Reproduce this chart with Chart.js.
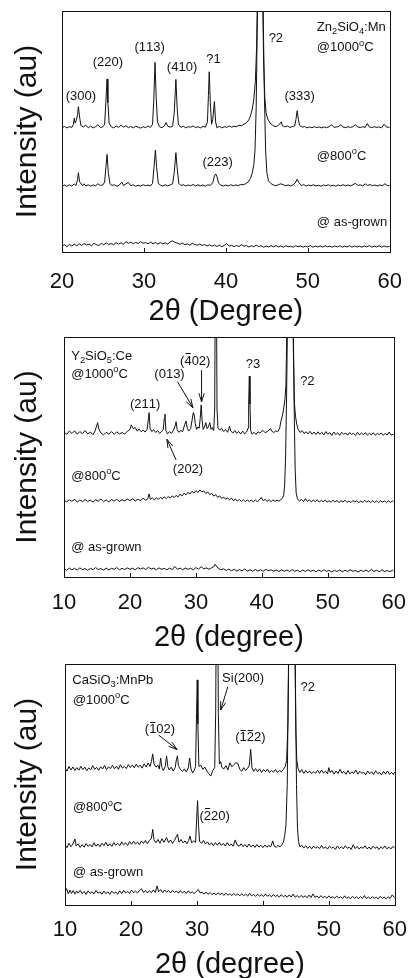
<!DOCTYPE html>
<html><head><meta charset="utf-8">
<script src="https://cdn.jsdelivr.net/npm/chart.js@4.4.1/dist/chart.umd.min.js"></script>
<style>
html,body{margin:0;padding:0;background:#fff;overflow:hidden;width:419px;height:978px;position:relative}
canvas{position:absolute;left:0}
</style></head><body>
<canvas id="c1" width="419" height="330" style="top:0px"></canvas>
<canvas id="c2" width="419" height="334" style="top:322px"></canvas>
<canvas id="c3" width="419" height="335" style="top:648px"></canvas>
<script>
// ---------------- DATA (2θ in degrees, intensity in offset arbitrary units) ----------------
const xTicksZn = [20, 30, 40, 50, 60];
const xTicksY = [10, 20, 30, 40, 50, 60];
const xTicksCa = [10, 20, 30, 40, 50, 60];

const zn1000 = [[20,51.6],[20.3,52.1],[20.6,51.5],[20.9,52.0],[21.2,51.7],[21.4,53.0],[21.5,55.6],[21.6,53.5],[21.75,54.5],[21.9,57],[22.0,60.3],[22.15,56],[22.3,52.5],[22.6,51.9],[22.9,52.6],[23.2,51.6],[23.5,52.2],[23.8,51.5],[24.1,52.0],[24.4,52.8],[24.7,51.6],[25.0,52.0],[25.2,53],[25.35,62],[25.5,71.8],[25.6,62],[25.75,53.5],[26.0,52.0],[26.3,51.5],[26.6,52.3],[26.9,51.7],[27.2,52.6],[27.5,51.8],[27.8,52.4],[28.1,51.6],[28.4,52.1],[28.7,51.5],[29.0,52.2],[29.3,51.8],[29.6,51.4],[29.9,52.0],[30.2,51.6],[30.5,52.3],[30.8,51.7],[31.05,53],[31.2,63],[31.35,78.7],[31.5,64],[31.65,54],[31.9,52.0],[32.2,51.6],[32.5,52.3],[32.7,53.7],[32.9,52.2],[33.2,51.8],[33.5,52.2],[33.7,58],[33.9,71.6],[34.05,60],[34.2,53],[34.5,51.7],[34.8,52.2],[35.1,51.5],[35.4,52.0],[35.7,51.8],[36.0,52.3],[36.3,51.6],[36.6,52.0],[36.9,51.5],[37.2,52.1],[37.5,51.8],[37.75,54],[37.87,65],[37.97,74.8],[38.1,62],[38.25,53],[38.4,55],[38.6,62.4],[38.75,54],[38.9,51.6],[39.2,52.1],[39.5,51.5],[39.8,52.0],[40.1,51.7],[40.4,52.3],[40.7,51.8],[41.0,52.2],[41.3,52.0],[41.6,52.6],[41.9,52.4],[42.2,53.0],[42.5,53.6],[42.8,54.8],[43.0,56.5],[43.2,59],[43.4,63],[43.6,71],[43.75,85],[43.85,105],[44.0,140],[44.2,160],[44.4,140],[44.5,105],[44.6,80],[44.75,64],[44.9,58],[45.1,55.2],[45.4,53.5],[45.7,52.6],[46.0,52.0],[46.3,52.3],[46.6,53.2],[46.75,54],[46.9,52.4],[47.2,51.9],[47.5,52.3],[47.8,51.7],[48.1,52.0],[48.4,52.3],[48.55,55],[48.7,58.6],[48.85,55],[49.0,52.5],[49.3,51.8],[49.6,52.1],[49.9,51.5],[50.2,51.9],[50.5,51.6],[50.8,52.0],[51.1,51.6],[51.4,51.9],[51.7,51.5],[52.0,51.9],[52.3,51.6],[52.6,52.0],[52.9,52.8],[53.2,51.7],[53.5,51.9],[53.8,52.1],[54.0,52.8],[54.3,51.8],[54.6,51.6],[54.9,52.0],[55.2,51.7],[55.5,52.0],[55.8,52.8],[56.1,51.9],[56.4,51.6],[56.7,52.0],[57.0,51.7],[57.25,53.3],[57.5,51.9],[57.8,51.6],[58.1,52.0],[58.4,51.7],[58.7,51.9],[59.0,51.5],[59.3,53.0],[59.6,51.8],[60,51.8]];

const zn800 = [[20,27.3],[20.3,27.8],[20.6,27.2],[20.9,27.9],[21.2,27.4],[21.5,28.2],[21.7,27.6],[21.9,30],[22.0,32.9],[22.15,29],[22.3,28.6],[22.5,27.5],[22.7,28.3],[22.9,27.4],[23.2,27.9],[23.5,27.3],[23.8,27.8],[24.1,27.5],[24.4,28.3],[24.7,27.6],[25.0,27.9],[25.2,29],[25.35,35],[25.5,40.5],[25.65,33],[25.85,28.3],[26.1,27.6],[26.4,27.9],[26.7,27.3],[27.0,27.8],[27.3,29.0],[27.5,27.6],[27.8,28.2],[28.1,28.9],[28.4,27.5],[28.7,27.9],[29.0,27.3],[29.3,27.7],[29.6,27.4],[29.9,27.9],[30.2,27.5],[30.5,27.8],[30.8,27.4],[31.05,28.5],[31.2,34],[31.4,42.3],[31.55,35],[31.75,28.6],[32.0,27.7],[32.3,27.4],[32.6,27.9],[32.9,27.5],[33.2,27.8],[33.5,28.3],[33.7,33],[33.9,41.2],[34.05,35],[34.25,28.5],[34.5,27.6],[34.8,27.9],[35.1,27.4],[35.4,27.8],[35.7,27.5],[36.0,28.0],[36.3,27.4],[36.6,27.9],[36.9,27.5],[37.2,27.8],[37.5,27.3],[37.8,27.9],[38.1,27.6],[38.4,28.8],[38.6,31.5],[38.75,32.4],[38.9,31.5],[39.1,28.6],[39.4,27.7],[39.7,27.4],[40.0,27.8],[40.3,27.4],[40.6,27.9],[40.9,27.5],[41.2,27.8],[41.5,27.6],[41.8,28.0],[42.1,27.9],[42.4,28.3],[42.7,29.0],[43.0,30.5],[43.2,32.5],[43.4,36],[43.55,42],[43.7,60],[43.85,100],[44.0,140],[44.2,160],[44.4,140],[44.55,100],[44.7,65],[44.85,42],[45.0,33],[45.2,29.5],[45.5,28.4],[45.8,27.8],[46.1,27.5],[46.4,27.9],[46.7,28.3],[47.0,27.9],[47.3,27.5],[47.6,27.8],[47.9,27.4],[48.2,27.9],[48.45,28.6],[48.7,30.2],[48.9,28.8],[49.2,27.6],[49.5,27.9],[49.8,27.4],[50.1,27.8],[50.4,27.5],[50.7,27.9],[51.0,27.4],[51.3,27.7],[51.6,27.3],[51.9,27.8],[52.2,27.5],[52.5,27.9],[52.8,27.4],[53.1,27.7],[53.4,27.3],[53.7,27.8],[54.0,27.5],[54.3,27.9],[54.6,27.5],[54.9,27.8],[55.2,27.4],[55.5,27.9],[55.8,28.5],[56.1,27.6],[56.4,27.9],[56.7,27.4],[57.0,28.3],[57.3,27.6],[57.6,28.0],[57.9,27.5],[58.2,27.8],[58.5,27.4],[58.8,27.8],[59.1,27.5],[59.4,28.3],[59.7,27.6],[60,27.5]];

const znAsGrown = [[20,2.4],[20.3,3.0],[20.6,2.2],[20.9,3.1],[21.2,2.5],[21.5,3.3],[21.8,2.6],[22.1,3.4],[22.4,2.7],[22.7,3.5],[23.0,2.9],[23.3,3.3],[23.6,2.6],[23.9,3.6],[24.2,3.0],[24.5,2.7],[24.8,3.6],[25.1,3.0],[25.4,3.8],[25.7,3.1],[26.0,3.5],[26.3,3.0],[26.6,3.9],[26.9,3.3],[27.2,3.8],[27.5,3.2],[27.8,4.3],[28.1,3.6],[28.4,4.1],[28.7,3.4],[29.0,4.0],[29.3,3.5],[29.6,4.3],[29.9,3.6],[30.2,3.9],[30.5,3.4],[30.8,4.1],[31.1,3.5],[31.4,3.9],[31.7,3.3],[32.0,3.9],[32.3,3.4],[32.6,3.8],[32.9,3.3],[33.2,4.2],[33.5,4.6],[33.8,4.0],[34.1,3.6],[34.4,3.2],[34.7,3.7],[35.0,3.0],[35.3,3.4],[35.6,2.8],[35.9,3.6],[36.2,3.1],[36.5,2.8],[36.8,3.3],[37.1,2.7],[37.4,3.1],[37.7,2.5],[38.0,3.0],[38.3,2.4],[38.6,2.9],[38.9,2.3],[39.2,2.8],[39.5,2.2],[39.8,2.7],[40.1,3.5],[40.4,2.4],[40.7,2.8],[41.0,2.2],[41.3,2.7],[41.6,2.3],[41.9,3.0],[42.2,2.4],[42.5,2.7],[42.8,2.1],[43.1,2.6],[43.4,2.2],[43.7,2.8],[44.0,2.3],[44.3,2.6],[44.6,2.0],[44.9,2.5],[45.2,2.1],[45.5,2.6],[45.8,2.2],[46.1,2.7],[46.4,2.1],[46.7,2.5],[47.0,2.0],[47.3,2.6],[47.6,2.2],[47.9,2.4],[48.2,2.0],[48.5,2.6],[48.8,2.2],[49.1,2.5],[49.4,2.0],[49.7,2.4],[50.0,2.1],[50.3,2.7],[50.6,2.0],[50.9,2.5],[51.2,2.1],[51.5,2.5],[51.8,2.0],[52.1,2.6],[52.4,2.2],[52.7,2.4],[53.0,2.0],[53.3,2.5],[53.6,2.1],[53.9,2.6],[54.2,2.0],[54.5,2.4],[54.8,2.1],[55.1,2.6],[55.4,2.0],[55.7,2.5],[56.0,2.1],[56.3,2.4],[56.6,2.0],[56.9,2.5],[57.2,2.1],[57.5,2.7],[57.8,2.0],[58.1,2.4],[58.4,2.1],[58.7,2.6],[59.0,2.0],[59.3,2.5],[59.6,2.1],[60,2.4]];

const y1000 = [[10,60.5],[10.4,59.4],[10.8,60.8],[11.2,59.8],[11.6,60.9],[12.0,59.5],[12.4,60.6],[12.8,59.7],[13.2,61.0],[13.6,59.6],[14.0,60.4],[14.4,59.3],[14.7,60.8],[14.9,62.5],[15.1,64.3],[15.3,61.5],[15.6,60.0],[16.0,59.2],[16.4,60.3],[16.8,59.5],[17.2,60.6],[17.6,59.4],[18.0,60.5],[18.4,59.6],[18.8,60.2],[19.2,59.5],[19.6,60.7],[20.0,61.5],[20.2,63.4],[20.5,61.8],[20.8,62.3],[21.1,60.8],[21.4,61.6],[21.7,60.5],[22.0,61.2],[22.3,60.4],[22.6,61.5],[22.8,66],[22.9,68.5],[23.05,62],[23.3,60.6],[23.6,61.3],[23.9,60.2],[24.2,61.0],[24.5,59.8],[24.8,60.6],[25.05,61.5],[25.2,66],[25.3,67.9],[25.45,61],[25.7,59.6],[26.0,60.6],[26.3,59.8],[26.6,61.2],[26.85,63],[27.0,64.7],[27.15,61.5],[27.4,60.3],[27.7,61.0],[28.0,60.6],[28.3,63.5],[28.5,65],[28.7,62],[28.9,60.8],[29.2,61.8],[29.4,65],[29.6,68.5],[29.75,67.5],[29.9,64],[30.1,61.5],[30.3,62.5],[30.5,62.0],[30.65,66],[30.8,71.7],[30.95,65],[31.1,61.5],[31.3,62.5],[31.5,64.3],[31.7,61.8],[31.9,62.6],[32.1,64.3],[32.3,61.5],[32.5,62.3],[32.7,61.0],[32.85,70],[32.95,130],[33.1,130],[33.2,70],[33.35,62],[33.6,61.2],[33.9,62.0],[34.2,60.6],[34.5,61.4],[34.8,60.3],[35.0,61.8],[35.1,62.8],[35.3,60.8],[35.6,60.0],[35.9,61.0],[36.2,59.8],[36.5,60.6],[36.8,59.6],[37.1,60.8],[37.4,59.7],[37.7,60.5],[37.9,62],[38.0,72],[38.1,83.7],[38.2,72],[38.3,61],[38.5,59.5],[38.8,60.3],[39.1,59.4],[39.4,60.5],[39.7,60.0],[40.0,60.8],[40.2,61.0],[40.5,60.1],[40.8,60.6],[41.1,61.2],[41.3,61.9],[41.5,60.8],[41.8,60.2],[42.1,60.9],[42.4,60.5],[42.7,62],[42.9,65],[43.1,67],[43.3,70],[43.5,74],[43.65,80],[43.8,105],[44.0,140],[44.3,150],[44.6,130],[44.8,90],[44.95,72],[45.1,67],[45.3,63.5],[45.5,61.5],[45.8,60.2],[46.1,61.0],[46.4,59.8],[46.7,60.5],[47.0,59.6],[47.3,60.7],[47.6,59.5],[47.9,60.4],[48.2,59.3],[48.5,60.5],[48.8,59.4],[49.1,60.3],[49.4,59.2],[49.7,60.6],[50.0,59.5],[50.3,60.2],[50.6,59.0],[50.9,60.4],[51.2,59.3],[51.5,60.1],[51.8,59.0],[52.1,60.3],[52.4,59.4],[52.7,60.0],[53.0,59.1],[53.3,60.2],[53.6,59.4],[53.9,59.9],[54.2,59.0],[54.5,60.3],[54.8,59.2],[55.1,60.0],[55.4,59.3],[55.7,60.2],[56.0,59.1],[56.3,59.9],[56.6,59.2],[56.9,60.1],[57.2,59.0],[57.5,59.9],[57.8,59.3],[58.1,60.0],[58.4,59.1],[58.7,59.8],[59.0,59.2],[59.3,60.4],[59.6,59.1],[60,59.6]];

const y800 = [[10,32.0],[10.4,31.3],[10.8,32.2],[11.2,31.5],[11.6,32.4],[12.0,31.2],[12.4,32.1],[12.8,31.4],[13.2,32.3],[13.6,31.5],[14.0,32.0],[14.4,31.2],[14.8,32.2],[15.2,31.6],[15.6,32.5],[16.0,31.4],[16.4,32.1],[16.8,31.3],[17.2,32.3],[17.6,31.6],[18.0,32.4],[18.4,31.5],[18.8,32.2],[19.2,31.7],[19.6,32.5],[20.0,31.8],[20.4,32.6],[20.8,31.7],[21.2,32.4],[21.6,31.9],[22.0,32.8],[22.4,32.0],[22.7,32.6],[22.9,34.6],[23.1,32.4],[23.4,32.9],[23.7,32.1],[24.0,33.0],[24.3,32.3],[24.6,33.2],[24.9,32.5],[25.2,33.4],[25.5,32.7],[25.8,33.5],[26.1,32.9],[26.4,33.8],[26.7,33.1],[27.0,34.0],[27.3,33.4],[27.6,34.5],[27.9,33.8],[28.2,34.9],[28.5,34.2],[28.8,35.3],[29.1,34.6],[29.4,35.7],[29.7,35.0],[30.0,36.0],[30.3,35.2],[30.6,36.3],[30.9,35.4],[31.2,35.9],[31.5,34.8],[31.8,35.4],[32.1,34.3],[32.4,34.9],[32.7,33.7],[33.0,34.3],[33.3,33.2],[33.6,33.8],[33.9,32.7],[34.2,33.3],[34.5,32.4],[34.8,33.0],[35.1,32.1],[35.4,32.8],[35.7,31.8],[36.0,32.5],[36.3,31.6],[36.6,32.3],[36.9,31.5],[37.2,32.2],[37.5,31.4],[37.8,32.1],[38.1,31.5],[38.4,32.0],[38.7,31.3],[39.0,32.1],[39.3,31.4],[39.6,32.0],[39.9,33.2],[40.2,31.8],[40.5,32.3],[40.8,31.5],[41.1,32.2],[41.4,31.4],[41.7,32.1],[42.0,31.5],[42.3,32.0],[42.6,31.6],[42.9,32.3],[43.1,32.8],[43.3,34],[43.45,38],[43.6,50],[43.75,75],[43.9,110],[44.2,150],[44.5,150],[44.75,110],[44.9,70],[45.05,45],[45.2,35],[45.4,32.6],[45.7,31.6],[46.0,32.3],[46.3,31.4],[46.6,32.6],[46.9,31.5],[47.2,32.2],[47.5,31.3],[47.8,32.0],[48.1,31.4],[48.4,32.2],[48.7,31.2],[49.0,31.9],[49.3,31.3],[49.6,32.1],[49.9,31.2],[50.2,31.8],[50.5,31.1],[50.8,32.0],[51.1,31.3],[51.4,31.9],[51.7,31.0],[52.0,31.8],[52.3,31.2],[52.6,32.0],[52.9,31.1],[53.2,31.7],[53.5,31.0],[53.8,31.9],[54.1,31.2],[54.4,31.8],[54.7,31.0],[55.0,31.7],[55.3,31.1],[55.6,31.9],[55.9,31.2],[56.2,31.7],[56.5,31.0],[56.8,31.8],[57.1,31.1],[57.4,31.7],[57.7,31.0],[58.0,31.8],[58.3,31.2],[58.6,31.7],[58.9,31.0],[59.2,31.8],[59.5,31.1],[59.8,31.7],[60,31.3]];

const yAsGrown = [[10,3.4],[10.4,2.8],[10.8,3.7],[11.2,3.0],[11.6,3.6],[12.0,2.9],[12.4,3.8],[12.8,3.1],[13.2,3.5],[13.6,2.8],[14.0,3.6],[14.4,3.0],[14.8,3.9],[15.2,3.1],[15.6,3.5],[16.0,2.9],[16.4,3.7],[16.8,3.0],[17.2,3.6],[17.6,3.2],[18.0,3.9],[18.4,3.0],[18.8,3.6],[19.2,3.1],[19.6,3.8],[20.0,3.2],[20.4,3.7],[20.8,3.0],[21.2,3.9],[21.6,3.3],[22.0,3.8],[22.4,3.1],[22.8,4.0],[23.2,3.3],[23.6,3.7],[24.0,3.0],[24.4,3.8],[24.8,3.2],[25.2,3.6],[25.6,3.0],[26.0,3.7],[26.4,3.1],[26.8,4.4],[27.2,3.2],[27.6,3.7],[28.0,3.0],[28.4,3.8],[28.8,3.2],[29.2,3.6],[29.6,3.0],[30.0,3.9],[30.4,3.3],[30.8,4.3],[31.2,3.4],[31.6,3.8],[32.0,3.2],[32.4,3.9],[32.7,4.3],[32.9,5.3],[33.1,4.6],[33.4,3.6],[33.8,3.0],[34.2,3.4],[34.6,2.7],[35.0,3.3],[35.4,2.6],[35.8,3.2],[36.2,2.5],[36.6,3.1],[37.0,2.6],[37.4,3.3],[37.8,2.5],[38.2,3.0],[38.6,2.4],[39.0,3.1],[39.4,2.5],[39.8,3.0],[40.2,2.4],[40.6,3.2],[41.0,2.6],[41.4,3.0],[41.8,2.4],[42.2,2.9],[42.6,2.3],[43.0,3.0],[43.4,2.4],[43.8,2.9],[44.2,2.3],[44.6,3.1],[45.0,2.4],[45.4,2.8],[45.8,2.2],[46.2,2.9],[46.6,2.3],[47.0,3.0],[47.4,2.4],[47.8,2.8],[48.2,2.2],[48.6,2.9],[49.0,2.3],[49.4,3.0],[49.8,2.4],[50.2,2.7],[50.6,2.1],[51.0,2.8],[51.4,2.3],[51.8,2.9],[52.2,2.2],[52.6,2.8],[53.0,2.3],[53.4,3.0],[53.8,2.4],[54.2,2.7],[54.6,2.1],[55.0,2.8],[55.4,2.3],[55.8,2.9],[56.2,2.2],[56.6,3.2],[57.0,2.3],[57.4,2.8],[57.8,2.2],[58.2,3.0],[58.6,2.3],[59.0,2.7],[59.4,2.2],[59.8,2.8],[60,2.4]];

const ca1000 = [[10,56.8],[10.3,55.6],[10.6,57.5],[10.9,56.0],[11.2,57.3],[11.5,55.8],[11.8,57.0],[12.1,55.9],[12.4,57.6],[12.7,56.2],[13.0,57.2],[13.3,55.7],[13.6,56.9],[13.9,56.1],[14.2,57.8],[14.5,56.3],[14.8,57.1],[15.1,55.9],[15.4,57.4],[15.7,56.4],[16.0,57.9],[16.3,56.2],[16.6,57.3],[16.9,56.6],[17.2,58.0],[17.5,56.5],[17.8,57.6],[18.1,56.3],[18.4,58.2],[18.7,56.8],[19.0,57.5],[19.3,56.6],[19.6,58.3],[19.9,57.0],[20.2,58.1],[20.5,56.9],[20.8,58.4],[21.1,57.2],[21.4,58.0],[21.7,56.8],[22.0,58.6],[22.3,57.3],[22.6,58.9],[22.9,57.5],[23.1,59.5],[23.3,62.7],[23.5,58.5],[23.8,57.2],[24.1,58.0],[24.3,56.4],[24.5,61.0],[24.7,57.0],[24.9,55.8],[25.2,57.5],[25.4,61.9],[25.6,57.3],[25.8,56.0],[26.1,57.2],[26.4,55.6],[26.7,57.0],[26.9,60.5],[27.05,61.9],[27.2,57.8],[27.5,56.2],[27.8,55.4],[28.1,56.5],[28.4,55.2],[28.7,57.0],[28.9,61.0],[29.1,56.5],[29.35,54.8],[29.6,55.9],[29.8,57.5],[29.95,80],[30.05,93.4],[30.15,75],[30.3,57.5],[30.6,58.0],[30.9,56.3],[31.2,57.2],[31.5,55.6],[31.8,54.5],[32.1,53.5],[32.4,55.8],[32.7,57.0],[32.85,80],[32.95,130],[33.15,130],[33.25,80],[33.4,58.5],[33.6,59.5],[33.8,57.0],[34.1,56.5],[34.4,57.8],[34.7,56.0],[35.0,59.0],[35.3,57.3],[35.6,58.2],[35.9,59.0],[36.2,58.8],[36.5,56.3],[36.8,55.5],[37.1,57.0],[37.4,55.8],[37.7,56.8],[37.95,58],[38.15,64.6],[38.35,57.0],[38.6,55.4],[38.9,56.6],[39.2,55.3],[39.5,56.5],[39.8,55.0],[40.1,56.2],[40.4,55.3],[40.7,56.4],[41.0,54.9],[41.3,55.9],[41.6,55.1],[41.9,56.2],[42.2,55.0],[42.5,55.8],[42.8,55.3],[43.1,56.2],[43.4,57.5],[43.6,60],[43.8,75],[43.95,110],[44.2,150],[44.6,150],[44.85,110],[45.0,72],[45.15,60],[45.35,56.5],[45.6,55.0],[45.9,56.2],[46.2,54.6],[46.5,55.8],[46.8,54.8],[47.1,55.6],[47.4,54.5],[47.7,55.4],[48.0,54.7],[48.3,55.9],[48.6,54.6],[48.9,56.0],[49.2,54.8],[49.5,55.5],[49.8,54.4],[50.0,57.0],[50.2,55.0],[50.5,55.8],[50.8,54.3],[51.1,55.6],[51.4,54.5],[51.7,56.3],[52.0,54.7],[52.3,55.4],[52.6,54.2],[52.9,55.8],[53.2,54.4],[53.5,55.2],[53.8,54.6],[54.1,56.0],[54.4,54.3],[54.7,55.5],[55.0,54.6],[55.3,55.1],[55.6,54.0],[55.9,55.6],[56.2,54.4],[56.5,55.3],[56.8,54.1],[57.1,55.7],[57.4,54.5],[57.7,55.0],[58.0,54.0],[58.3,55.5],[58.6,54.3],[58.9,55.6],[59.2,54.2],[59.5,55.0],[59.8,54.1],[60,55.2]];

const ca800 = [[10,25.0],[10.3,23.8],[10.6,25.6],[10.9,24.2],[11.2,25.3],[11.5,27.4],[11.7,24.5],[12.0,25.4],[12.3,23.9],[12.6,25.1],[12.9,24.0],[13.2,25.5],[13.5,24.3],[13.8,25.2],[14.1,24.1],[14.4,25.8],[14.7,24.4],[15.0,25.3],[15.3,24.2],[15.6,25.6],[15.9,24.6],[16.2,26.0],[16.5,24.5],[16.8,25.4],[17.1,24.3],[17.4,25.9],[17.7,24.8],[18.0,25.6],[18.3,24.6],[18.6,26.2],[18.9,25.0],[19.2,25.8],[19.5,24.7],[19.8,26.3],[20.1,25.2],[20.4,26.5],[20.7,25.3],[21.0,26.1],[21.3,25.0],[21.6,26.6],[21.9,25.5],[22.2,26.8],[22.5,25.4],[22.8,26.9],[23.1,27.5],[23.3,31.4],[23.5,27.0],[23.8,25.8],[24.1,27.2],[24.4,25.6],[24.7,27.5],[25.0,26.0],[25.4,28.0],[25.7,25.9],[26.0,27.0],[26.3,25.5],[26.6,26.8],[26.9,28.5],[27.05,29.3],[27.3,26.0],[27.6,27.2],[27.9,25.8],[28.2,26.6],[28.5,25.4],[28.75,26.8],[28.95,28.6],[29.2,25.8],[29.5,26.6],[29.8,26.0],[29.95,35],[30.1,43.3],[30.25,33],[30.4,26.5],[30.7,25.6],[31.0,26.8],[31.3,25.3],[31.6,26.2],[31.9,24.9],[32.2,25.8],[32.5,24.6],[32.8,25.9],[33.1,24.8],[33.4,26.0],[33.7,24.7],[34.0,25.6],[34.3,24.5],[34.6,25.9],[34.9,24.6],[35.2,25.3],[35.5,24.4],[35.8,27.0],[36.1,25.0],[36.4,24.3],[36.7,25.4],[37.0,24.2],[37.3,25.1],[37.6,24.0],[37.9,25.3],[38.2,24.1],[38.5,24.9],[38.8,23.9],[39.1,25.1],[39.4,24.0],[39.7,24.8],[40.0,23.8],[40.3,24.9],[40.6,24.0],[40.9,24.6],[41.2,24.2],[41.5,26.6],[41.7,24.5],[42.0,23.9],[42.3,24.7],[42.6,24.1],[42.9,25.0],[43.1,26.0],[43.3,28.5],[43.5,33],[43.7,50],[43.85,90],[44.0,130],[44.4,150],[44.8,130],[44.95,90],[45.1,50],[45.25,32],[45.4,26.5],[45.6,24.2],[45.9,24.8],[46.2,23.6],[46.5,24.6],[46.8,23.5],[47.1,24.4],[47.4,23.3],[47.7,24.5],[48.0,23.6],[48.3,24.2],[48.6,23.4],[48.9,24.7],[49.2,23.5],[49.5,24.1],[49.8,23.2],[50.1,24.4],[50.4,23.6],[50.7,24.0],[51.0,23.1],[51.3,24.5],[51.6,23.4],[51.9,24.2],[52.2,23.3],[52.5,24.6],[52.8,23.5],[53.1,24.0],[53.4,23.1],[53.7,25.0],[54.0,23.4],[54.3,24.3],[54.6,23.2],[54.9,24.1],[55.2,23.5],[55.5,24.6],[55.8,23.3],[56.1,24.0],[56.4,23.2],[56.7,24.4],[57.0,23.5],[57.3,24.1],[57.6,23.0],[57.9,24.2],[58.2,23.4],[58.5,24.5],[58.8,23.3],[59.1,24.0],[59.4,23.2],[59.7,24.3],[60,23.6]];

const caAsGrown = [[10,5.4],[10.25,6.8],[10.5,4.6],[10.75,6.2],[11.0,4.8],[11.25,6.0],[11.5,4.5],[11.75,5.8],[12.0,4.9],[12.3,6.1],[12.6,4.7],[12.9,5.6],[13.2,4.4],[13.5,5.9],[13.8,4.8],[14.1,5.5],[14.4,4.6],[14.7,6.0],[15.0,4.9],[15.3,5.4],[15.6,4.5],[15.9,5.8],[16.2,4.7],[16.5,5.5],[16.8,4.4],[17.1,5.7],[17.4,4.8],[17.7,5.3],[18.0,4.5],[18.3,5.9],[18.6,4.7],[18.9,6.1],[19.2,5.0],[19.5,5.6],[19.8,4.8],[20.1,6.2],[20.4,5.1],[20.7,5.8],[21.0,5.0],[21.3,6.0],[21.6,6.8],[21.9,5.2],[22.2,6.0],[22.5,5.0],[22.8,5.9],[23.1,5.1],[23.4,6.3],[23.7,5.2],[23.95,7.9],[24.2,5.5],[24.5,6.4],[24.8,5.1],[25.1,6.2],[25.4,5.3],[25.7,6.0],[26.0,5.0],[26.3,6.1],[26.6,5.2],[26.9,5.8],[27.2,4.9],[27.5,6.0],[27.8,5.0],[28.1,5.7],[28.4,4.8],[28.7,5.9],[29.0,4.9],[29.3,5.5],[29.6,4.7],[29.9,5.6],[30.2,6.4],[30.5,5.0],[30.8,5.3],[31.1,4.5],[31.4,5.4],[31.7,4.4],[32.0,5.2],[32.3,4.3],[32.6,5.0],[32.9,4.2],[33.2,5.1],[33.5,4.3],[33.8,4.9],[34.1,4.0],[34.4,4.9],[34.7,4.1],[35.0,4.7],[35.3,3.9],[35.6,4.8],[35.9,4.0],[36.2,4.6],[36.5,3.8],[36.8,4.7],[37.1,3.9],[37.4,4.5],[37.7,3.7],[38.0,4.9],[38.3,3.8],[38.6,4.4],[38.9,3.6],[39.2,4.5],[39.5,3.7],[39.8,4.3],[40.1,3.5],[40.4,4.6],[40.7,3.6],[41.0,4.2],[41.3,3.4],[41.6,4.4],[41.9,3.5],[42.2,4.1],[42.5,3.3],[42.8,4.3],[43.1,3.4],[43.4,4.0],[43.7,3.2],[44.0,4.2],[44.3,3.3],[44.6,4.5],[44.9,3.2],[45.2,3.9],[45.5,3.1],[45.8,4.0],[46.1,3.2],[46.4,3.8],[46.7,3.0],[47.0,4.1],[47.3,3.1],[47.6,4.6],[47.9,3.2],[48.2,3.7],[48.5,2.9],[48.8,3.9],[49.1,3.0],[49.4,3.6],[49.7,2.8],[50.0,3.8],[50.3,2.9],[50.6,3.5],[50.9,2.8],[51.2,3.7],[51.5,2.9],[51.8,3.4],[52.1,2.7],[52.4,3.8],[52.7,2.8],[53.0,3.3],[53.3,2.6],[53.6,3.6],[53.9,2.8],[54.2,3.4],[54.5,2.6],[54.8,3.5],[55.1,2.7],[55.4,3.9],[55.7,2.7],[56.0,3.3],[56.3,2.6],[56.6,3.5],[56.9,2.8],[57.2,3.2],[57.5,2.5],[57.8,3.6],[58.1,2.7],[58.4,3.3],[58.7,2.6],[59.0,3.4],[59.3,2.7],[59.6,4.2],[60,3.0]];

// annotations: [text, 2θ, intensity, align]  (_x subscript, ^x superscript, ~x overbar)
const znNotes = [['(300)',22.3,65.1,'c'],['(220)',25.6,79,'c'],['(113)',30.7,85.2,'c'],['(410)',34.65,77.2,'c'],['?1',38.5,80.4,'c'],['?2',46.1,88.9,'c'],['(333)',49.0,64.9,'c'],['(223)',39.0,37.5,'c'],['Zn_2SiO_4:Mn',51.1,93.5,'l'],['@1000^oC',51.1,85.2,'l'],['@800^oC',51.1,40.2,'l'],['@ as-grown',51.1,12.6,'l']];
const yNotes = [['Y_2SiO_5:Ce',11.1,92.5,'l'],['@1000^oC',11.1,84.9,'l'],['(211)',22.3,72.4,'c'],['(013)',26.0,84.9,'c'],['(~402)',29.9,90.4,'c'],['?3',38.65,89,'c'],['?2',46.9,82.1,'c'],['(202)',28.8,45.3,'c'],['@800^oC',11.1,42.5,'l'],['@ as-grown',11.1,12.6,'l']];
const caNotes = [['CaSiO_3:MnPb',11.1,93.6,'l'],['@1000^oC',11.2,85.4,'l'],['(~102)',24.4,73.3,'c'],['Si(200)',37.0,94.5,'c'],['?2',46.8,90.9,'c'],['(~1~22)',38.1,69.8,'c'],['@800^oC',11.2,40.8,'l'],['(~220)',32.7,37.3,'c'],['@ as-grown',11.2,13.8,'l']];
const yArrows = [[27.2,81.4,29.55,70.5],[30.86,86.2,30.86,73],[27.0,48.75,25.6,57.4]];
const caArrows = [[24.2,70.5,27.0,64.5],[34.7,90.6,33.6,80.9]];

// ---------------- RENDERING ----------------
const FAM = '"Liberation Sans", Arial, Helvetica, sans-serif';
const INK = '#111';

function richText(ctx, s, x, y, align, size) {
  const segs = [];
  for (let i = 0; i < s.length; i++) {
    const c = s[i];
    if ((c === '_' || c === '^' || c === '~') && i + 1 < s.length) { segs.push({t: s[i+1], m: c}); i++; }
    else segs.push({t: c, m: ''});
  }
  let w = 0;
  segs.forEach(g => {
    g.sz = (g.m === '_' || g.m === '^') ? size * 0.72 : size;
    ctx.font = g.sz + 'px ' + FAM;
    g.w = ctx.measureText(g.t).width; w += g.w;
  });
  let cx = align === 'c' ? x - w / 2 : align === 'r' ? x - w : x;
  const base = y + size * 0.36;
  ctx.textAlign = 'left'; ctx.textBaseline = 'alphabetic'; ctx.fillStyle = INK; ctx.strokeStyle = INK;
  segs.forEach(g => {
    ctx.font = g.sz + 'px ' + FAM;
    let yy = base;
    if (g.m === '_') yy = base + size * 0.22;
    if (g.m === '^') yy = base - size * 0.42;
    ctx.fillText(g.t, cx, yy);
    if (g.m === '~') {
      ctx.beginPath(); ctx.lineWidth = 1;
      ctx.moveTo(cx + 1, Math.round(base - size * 0.88) + 0.5);
      ctx.lineTo(cx + g.w - 1, Math.round(base - size * 0.88) + 0.5);
      ctx.stroke();
    }
    cx += g.w;
  });
}

function arrow(ctx, x1, y1, x2, y2) {
  ctx.beginPath(); ctx.lineWidth = 1; ctx.strokeStyle = INK;
  ctx.moveTo(x1, y1); ctx.lineTo(x2, y2);
  const a = Math.atan2(y2 - y1, x2 - x1), L = 9;
  ctx.moveTo(x2, y2); ctx.lineTo(x2 - L * Math.cos(a - 0.3), y2 - L * Math.sin(a - 0.3));
  ctx.moveTo(x2, y2); ctx.lineTo(x2 - L * Math.cos(a + 0.3), y2 - L * Math.sin(a + 0.3));
  ctx.stroke();
}

function makePanel(id, plot, xMin, xMax, xTicks, xTitle, series, notes, arrows, tickPad) {
  const cv = document.getElementById(id);
  const H = cv.height;
  const deco = {
    id: 'deco' + id,
    afterDraw(chart) {
      const ctx = chart.ctx, a = chart.chartArea, xs = chart.scales.x, ys = chart.scales.y;
      ctx.save();
      ctx.strokeStyle = INK; ctx.lineWidth = 1;
      ctx.strokeRect(Math.round(a.left) + 0.5, Math.round(a.top) + 0.5, Math.round(a.right - a.left), Math.round(a.bottom - a.top));
      ctx.beginPath();
      xTicks.forEach(v => {
        const px = Math.round(xs.getPixelForValue(v)) + 0.5;
        ctx.moveTo(px, a.bottom); ctx.lineTo(px, a.bottom - 4);
      });
      ctx.stroke();
      notes.forEach(n => richText(ctx, n[0], xs.getPixelForValue(n[1]), ys.getPixelForValue(n[2]), n[3], 13));
      arrows.forEach(r => arrow(ctx, xs.getPixelForValue(r[0]), ys.getPixelForValue(r[1]), xs.getPixelForValue(r[2]), ys.getPixelForValue(r[3])));
      ctx.restore();
    }
  };
  return new Chart(cv, {
    type: 'line',
    data: {
      datasets: series.map(s => ({
        data: s.map(p => ({x: p[0], y: p[1]})),
        borderColor: INK, borderWidth: 1, pointRadius: 0, tension: 0, fill: false
      }))
    },
    options: {
      responsive: false, animation: false, events: [],
      layout: {padding: {top: plot.top, right: 419 - plot.right, left: 0, bottom: 0}},
      plugins: {legend: {display: false}, tooltip: {enabled: false}},
      scales: {
        x: {
          type: 'linear', min: xMin, max: xMax,
          afterBuildTicks: s => { s.ticks = xTicks.map(v => ({value: v})); },
          afterFit: s => { s.height = H - plot.bottom; },
          grid: {display: false, drawTicks: false}, border: {display: false},
          ticks: {color: INK, padding: tickPad, font: {family: FAM, size: 22}},
          title: {display: true, text: xTitle, color: INK, padding: {top: 0, bottom: 1}, font: {family: FAM, size: 29}}
        },
        y: {
          min: 0, max: 100,
          afterFit: s => { s.width = plot.left; },
          grid: {display: false, drawTicks: false}, border: {display: false},
          ticks: {display: false},
          title: {display: true, text: 'Intensity (au)', color: INK, padding: {top: 10, bottom: 0}, font: {family: FAM, size: 30}}
        }
      }
    },
    plugins: [deco]
  });
}

makePanel('c1', {left: 62, right: 404, top: 11, bottom: 252}, 20, 60, xTicksZn, '2θ (Degree)', [zn1000, zn800, znAsGrown], znNotes, [], 17);
makePanel('c2', {left: 64, right: 406, top: 15, bottom: 255}, 10, 60, xTicksY, '2θ (degree)', [y1000, y800, yAsGrown], yNotes, yArrows, 13);
makePanel('c3', {left: 65, right: 406, top: 16, bottom: 257}, 10, 60, xTicksCa, '2θ (degree)', [ca1000, ca800, caAsGrown], caNotes, caArrows, 12);
</script>
</body></html>
